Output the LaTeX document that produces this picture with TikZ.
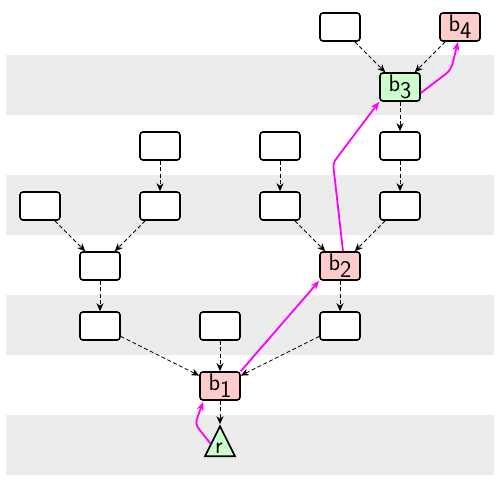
\documentclass[tikz,border=0pt]{standalone}
\usetikzlibrary{arrows.meta,shapes.geometric}
\definecolor{bandgray}{RGB}{236,236,236}
\definecolor{pinkfill}{RGB}{255,204,204}
\definecolor{greenfill}{RGB}{204,255,204}
\definecolor{mag}{RGB}{255,0,255}
\newcommand{\lbl}[2]{\sffamily\fontsize{24}{24}\selectfont #1\raisebox{-0.3em}{#2}}
\tikzset{
  box/.style={draw=black, line width=1.6pt, rounded corners=3pt, minimum width=40pt, minimum height=28pt, inner sep=0pt, fill=white},
  redbox/.style={box, fill=pinkfill},
  greenbox/.style={box, fill=greenfill},
  dep/.style={dashed, dash pattern=on 4pt off 2.5pt, line width=0.8pt, -{Stealth[length=8pt,width=7pt]}},
  hl/.style={mag, line width=1.8pt, -{Stealth[length=9pt,width=7pt]}}
}
\begin{document}
\begin{tikzpicture}[x=1pt,y=-1pt]
\useasboundingbox (0,0) rectangle (500,481);
\fill[bandgray] (6,55) rectangle (494,115);
\fill[bandgray] (6,175) rectangle (494,235);
\fill[bandgray] (6,295) rectangle (494,355);
\fill[bandgray] (6,415) rectangle (494,475);
% nodes
\node[box] (a0) at (340,27) {};
\node[redbox] (b4) at (460,27) {\lbl{b}{4}};
\node[greenbox] (b3) at (400,87) {\lbl{b}{3}};
\node[box] (c1) at (160,146) {};
\node[box] (c2) at (280,146) {};
\node[box] (c3) at (400,146) {};
\node[box] (d1) at (40,206) {};
\node[box] (d2) at (160,206) {};
\node[box] (d3) at (280,206) {};
\node[box] (d4) at (400,206) {};
\node[box] (e1) at (100,266) {};
\node[redbox] (b2) at (340,266) {\lbl{b}{2}};
\node[box] (f1) at (100,326) {};
\node[box] (f2) at (220,326) {};
\node[box] (f3) at (340,326) {};
\node[redbox] (b1) at (220,386) {\lbl{b}{1}};
\node[draw=black, line width=1.6pt, fill=greenfill, isosceles triangle, shape border rotate=90, isosceles triangle stretches, minimum width=30pt, minimum height=30pt, inner sep=0pt] (r) at (220,447) {};
\node at (219,448) {\sffamily\fontsize{24}{24}\selectfont r};
% dependency edges
\draw[dep] (a0) -- (b3);
\draw[dep] (b4) -- (b3);
\draw[dep] (b3) -- (c3);
\draw[dep] (c1) -- (d2);
\draw[dep] (c2) -- (d3);
\draw[dep] (c3) -- (d4);
\draw[dep] (d1) -- (e1);
\draw[dep] (d2) -- (e1);
\draw[dep] (d3) -- (b2);
\draw[dep] (d4) -- (b2);
\draw[dep] (e1) -- (f1);
\draw[dep] (b2) -- (f3);
\draw[dep] (f1) -- (b1);
\draw[dep] (f2) -- (b1);
\draw[dep] (f3) -- (b1);
\draw[dep] (b1) -- (r.north);
% highlighted path
\coordinate (ka) at (195,424);
\draw[hl, rounded corners=5pt] (r.160) -- (ka) -- ([xshift=4pt,yshift=-1pt]b1.south west);
\draw[hl] (b1.north east) -- (b2.south west);
\coordinate (kb) at (333,163);
\draw[hl, rounded corners=4pt] ([xshift=3pt]b2.north) -- (kb) -- (b3.south west);
\coordinate (kc) at (451,70);
\draw[hl, rounded corners=6pt] ([yshift=-6pt]b3.east) -- (kc) -- ([xshift=-2pt]b4.south);
\end{tikzpicture}
\end{document}
